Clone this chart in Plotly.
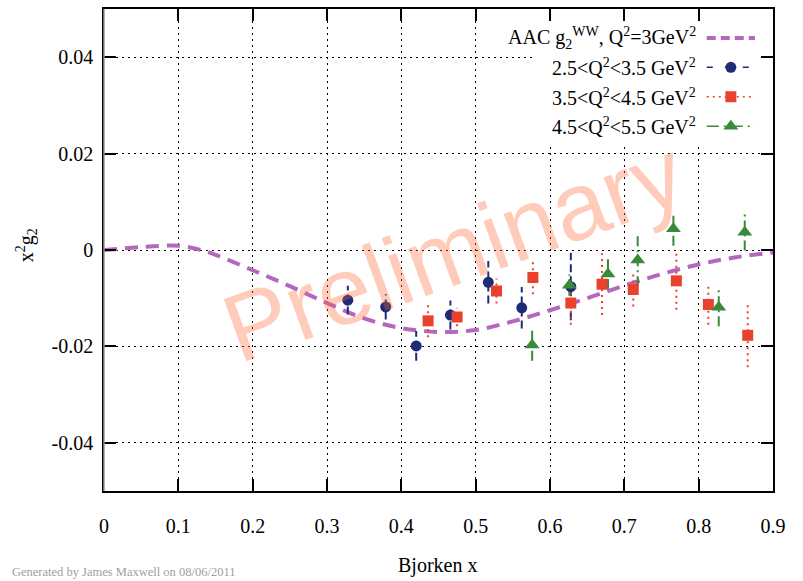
import plotly.graph_objects as go

# AAC g2^WW curve (x^2 g2), Q^2 = 3 GeV^2
curve_x = [0.0, 0.05, 0.10, 0.13, 0.15, 0.20, 0.25, 0.30, 0.35, 0.40, 0.45,
           0.50, 0.55, 0.60, 0.65, 0.70, 0.75, 0.80, 0.85, 0.90]
curve_y = [0.0, 0.0006, 0.0009, 0.0, -0.0010, -0.0042, -0.0075, -0.0110, -0.0142,
           -0.0162, -0.0170, -0.0166, -0.0148, -0.0125, -0.0100, -0.0074, -0.0050,
           -0.0030, -0.0015, -0.0005]

# 2.5 < Q^2 < 3.5 GeV^2
q1_x = [0.328, 0.379, 0.420, 0.466, 0.517, 0.562, 0.628]
q1_y = [-0.0104, -0.0118, -0.0199, -0.0135, -0.0067, -0.0120, -0.0076]
q1_err = [0.0030, 0.0026, 0.0031, 0.0030, 0.0044, 0.0043, 0.0070]

# 3.5 < Q^2 < 4.5 GeV^2
q2_x = [0.436, 0.475, 0.528, 0.577, 0.628, 0.670, 0.712, 0.770, 0.813, 0.866]
q2_y = [-0.0147, -0.0139, -0.0085, -0.0057, -0.0110, -0.0071, -0.0082, -0.0064,
        -0.0113, -0.0177]
q2_err = [0.0034, 0.0019, 0.0026, 0.0035, 0.0045, 0.0064, 0.0035, 0.0060, 0.0042, 0.0066]

# 4.5 < Q^2 < 5.5 GeV^2
q3_x = [0.576, 0.626, 0.678, 0.718, 0.766, 0.827, 0.862]
q3_y = [-0.0197, -0.0073, -0.0050, -0.0021, 0.0044, -0.0119, 0.0037]
q3_err = [0.0033, 0.0022, 0.0031, 0.0054, 0.0035, 0.0039, 0.0038]

x_ticks = [0, 0.1, 0.2, 0.3, 0.4, 0.5, 0.6, 0.7, 0.8, 0.9]
x_tick_text = ["0", "0.1", "0.2", "0.3", "0.4", "0.5", "0.6", "0.7", "0.8", "0.9"]
y_ticks = [-0.04, -0.02, 0, 0.02, 0.04]
y_tick_text = ["-0.04", "-0.02", "0", "0.02", "0.04"]

legend_labels = [
    "AAC g<sub>2</sub><sup>WW</sup>, Q<sup>2</sup>=3GeV<sup>2</sup>",
    "2.5&lt;Q<sup>2</sup>&lt;3.5 GeV<sup>2</sup>",
    "3.5&lt;Q<sup>2</sup>&lt;4.5 GeV<sup>2</sup>",
    "4.5&lt;Q<sup>2</sup>&lt;5.5 GeV<sup>2</sup>",
]

SERIF = "Liberation Serif"
SANS = "Liberation Sans"
PURPLE = "rgb(183,102,190)"
BLUE = "rgb(30,44,120)"
RED = "rgb(232,66,46)"
GREEN = "rgb(58,138,58)"

series = [
    (q1_x, q1_y, q1_err, BLUE, "circle", 11, "8px,4px"),
    (q2_x, q2_y, q2_err, RED, "square", 11, "2px,4px"),
    (q3_x, q3_y, q3_err, GREEN, "triangle-up", 13, "10px,4px,2px,4px"),
]

fig = go.Figure()

fig.add_trace(go.Scatter(
    x=curve_x, y=curve_y, mode="lines", line_shape="spline",
    line=dict(color=PURPLE, width=4, dash="13px,8px"),
    showlegend=False, hoverinfo="skip"))


def bar_segments(xs, ys, errs):
    bx, by = [], []
    for xv, yv, ev in zip(xs, ys, errs):
        bx += [xv, xv, None]
        by += [yv - ev, yv + ev, None]
    return bx, by


for xs, ys, errs, color, symbol, size, dash in series:
    bx, by = bar_segments(xs, ys, errs)
    fig.add_trace(go.Scatter(
        x=bx, y=by, mode="lines", line=dict(color=color, width=2, dash=dash),
        showlegend=False, hoverinfo="skip"))
for xs, ys, errs, color, symbol, size, dash in series:
    fig.add_trace(go.Scatter(
        x=xs, y=ys, mode="markers",
        marker=dict(symbol=symbol, size=size, color=color, line=dict(width=0)),
        showlegend=False))

# key: white backing box and samples, drawn on a hidden overlay frame
# spanning the plot area (0..1 in both directions)
box_x = [0.644, 1.0, 1.0, 0.644, 0.644]
box_y = [0.721, 0.721, 1.0, 1.0, 0.721]
fig.add_trace(go.Scatter(
    x=box_x, y=box_y, mode="lines", fill="toself", fillcolor="white",
    line=dict(width=0, color="white"), xaxis="x2", yaxis="y2",
    showlegend=False, hoverinfo="skip"))

row_y = [0.940, 0.879, 0.818, 0.757]
sample_x0, sample_x1, sample_xm = 0.901, 0.973, 0.937
key_styles = [
    (PURPLE, 4, "9px,5px", None, 0),
    (BLUE, 1.5, "6px,12px", "circle", 11),
    (RED, 1.5, "2px,4px", "square", 11),
    (GREEN, 1.5, "12px,5px,2px,5px", "triangle-up", 13),
]
for ry, (color, w, dash, symbol, size) in zip(row_y, key_styles):
    fig.add_trace(go.Scatter(
        x=[sample_x0, sample_x1], y=[ry, ry], mode="lines",
        line=dict(color=color, width=w, dash=dash),
        xaxis="x2", yaxis="y2", showlegend=False, hoverinfo="skip"))
    if symbol:
        fig.add_trace(go.Scatter(
            x=[sample_xm], y=[ry], mode="markers",
            marker=dict(symbol=symbol, size=size, color=color),
            xaxis="x2", yaxis="y2", showlegend=False, hoverinfo="skip"))

annotations = []
for ry, label in zip(row_y, legend_labels):
    annotations.append(dict(
        x=0.888, y=ry, xref="paper", yref="paper", text=label, showarrow=False,
        xanchor="right", yanchor="middle", font=dict(family=SERIF, size=20, color="black")))

annotations += [
    dict(x=0.498, y=-0.155, xref="paper", yref="paper", text="Bjorken x", showarrow=False,
         xanchor="center", yanchor="middle", font=dict(family=SERIF, size=20, color="black")),
    dict(x=-0.115, y=0.51, xref="paper", yref="paper", text="x<sup>2</sup>g<sub>2</sub>",
         showarrow=False, textangle=-90, xanchor="center", yanchor="middle",
         font=dict(family=SERIF, size=20, color="black")),
    dict(x=-0.141, y=-0.169, xref="paper", yref="paper",
         text="Generated by James Maxwell on 08/06/2011", showarrow=False,
         xanchor="left", yanchor="middle", font=dict(family=SERIF, size=12.5, color="#a0a0a0")),
    dict(x=0.522, y=0.50, xref="paper", yref="paper", text="Preliminary", showarrow=False,
         textangle=-20, xanchor="center", yanchor="middle",
         font=dict(family=SANS, size=96, color="rgba(255,100,50,0.33)")),
]

shapes = [
    # left frame edge
    dict(type="line", xref="paper", yref="paper", x0=0, x1=0, y0=0, y1=1,
         line=dict(color="#999999", width=1.5), layer="above"),
]

axis_common = dict(
    showline=True, linecolor="black", linewidth=1.5, mirror="ticks",
    ticks="inside", ticklen=12, tickwidth=1.5, tickcolor="black",
    showgrid=True, gridcolor="black", gridwidth=1.2, griddash="2px,4px",
    zeroline=False, tickfont=dict(family=SERIF, size=20, color="black"),
)

fig.update_layout(
    width=803, height=581,
    margin=dict(l=104, r=30, t=7, b=90),
    paper_bgcolor="white", plot_bgcolor="white",
    font=dict(family=SERIF, size=20, color="black"),
    showlegend=False,
    xaxis=dict(range=[0, 0.9], tickvals=x_ticks, ticktext=x_tick_text,
               ticklabelstandoff=16, **axis_common),
    yaxis=dict(range=[-0.05, 0.05], tickvals=y_ticks, ticktext=y_tick_text,
               ticklabelstandoff=5, **axis_common),
    xaxis2=dict(overlaying="x", range=[0, 1], visible=False),
    yaxis2=dict(overlaying="y", range=[0, 1], visible=False),
    annotations=annotations,
    shapes=shapes,
)

fig.write_html("out.html")
